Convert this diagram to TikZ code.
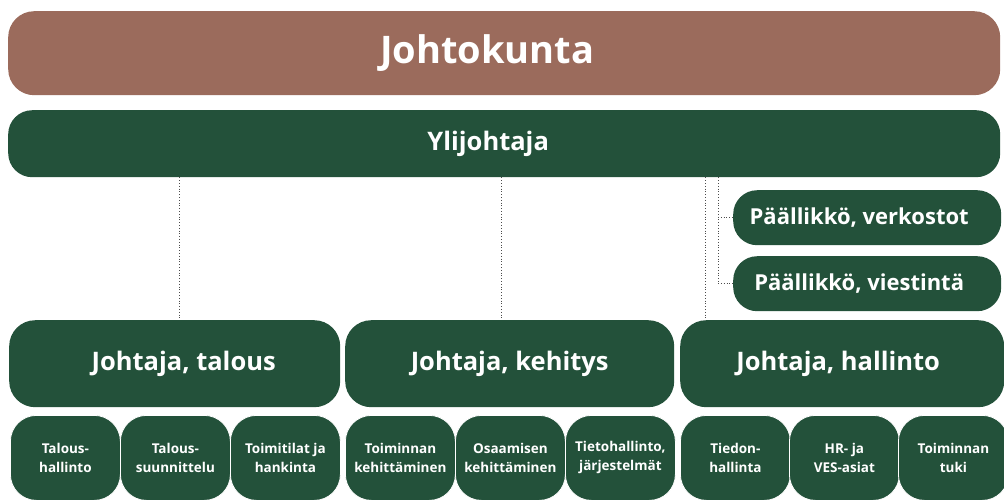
\documentclass[tikz,border=0pt]{standalone}
\usepackage{fontspec}
\setmainfont{Open Sans}
\usetikzlibrary{calc}
\definecolor{brownbox}{HTML}{9B6B5C}
\definecolor{greenbox}{HTML}{23513A}
\tikzset{
  box/.style={anchor=north west, inner sep=0pt, rounded corners=#1, text=white, font=\bfseries, align=center},
  box/.default=24pt,
  conn/.style={dotted, line width=0.8pt, draw=black!70},
}
\begin{document}
\begin{tikzpicture}[x=1pt,y=-1pt]
\useasboundingbox (0,0) rectangle (1004,499);
\node[box=26pt, fill=brownbox, minimum width=992pt, minimum height=84pt, font=\bfseries\fontsize{38}{44}\selectfont] (jk) at (8,11) {Johtokunta\hspace*{34pt}};
\node[box=24pt, fill=greenbox, minimum width=992pt, minimum height=67pt, font=\bfseries\fontsize{25.5}{30}\selectfont] (yli) at (8,110) {Ylijohtaja\hspace*{32pt}};
\node[box=24pt, fill=greenbox, minimum width=268pt, minimum height=55pt, font=\bfseries\fontsize{22}{26}\selectfont] (pver) at (733,190) {Päällikkö, verkostot\hspace*{16pt}};
\node[box=24pt, fill=greenbox, minimum width=268pt, minimum height=55pt, font=\bfseries\fontsize{22}{26}\selectfont] (pvie) at (733,256) {Päällikkö, viestintä\hspace*{16pt}};
\node[box=26pt, fill=greenbox, minimum width=331pt, minimum height=87pt, font=\bfseries\fontsize{25.5}{30}\selectfont] (jt) at (9,320) {\hspace*{18pt}Johtaja, talous};
\node[box=26pt, fill=greenbox, minimum width=329pt, minimum height=87pt, font=\bfseries\fontsize{25.5}{30}\selectfont] (jke) at (345,320) {Johtaja, kehitys};
\node[box=26pt, fill=greenbox, minimum width=324pt, minimum height=87pt, font=\bfseries\fontsize{25.5}{30}\selectfont] (jh) at (680,320) {Johtaja, hallinto\hspace*{8pt}};
% bottom row
\tikzset{small/.style={box=26pt, fill=greenbox, draw=white, line width=0.8pt, minimum width=110pt, minimum height=85pt, font=\bfseries\fontsize{13.5}{19}\selectfont}}
\node[small] (b1) at (10,415) {Talous-\\hallinto};
\node[small] (b2) at (120,415) {Talous-\\suunnittelu};
\node[small] (b3) at (230,415) {Toimitilat ja\\hankinta};
\node[small] (b4) at (345,415) {Toiminnan\\kehittäminen};
\node[small] (b5) at (455,415) {Osaamisen\\kehittäminen};
\node[small] (b6) at (565,415) {Tietohallinto,\\järjestelmät};
\node[small] (b7) at (680,415) {Tiedon-\\hallinta};
\node[small] (b8) at (789,415) {HR- ja\\VES-asiat};
\node[small] (b9) at (898,415) {Toiminnan\\tuki};
% connectors
\draw[conn] ($(yli.south -| jt.north)+(5,0)$) -- ($(jt.north)+(5,0)$);
\draw[conn] ($(yli.south -| jke.north)+(-8,0)$) -- ($(jke.north)+(-8,0)$);
\draw[conn] ($(yli.south -| jh.north west)+(25,0)$) -- ($(jh.north west)+(25,0)$);
\coordinate (c1) at ($(yli.south -| jh.north west)+(38,0)$);
\draw[conn] (c1) |- (pvie.west);
\draw[conn] (c1 |- pver.west) -- (pver.west);
\end{tikzpicture}
\end{document}
